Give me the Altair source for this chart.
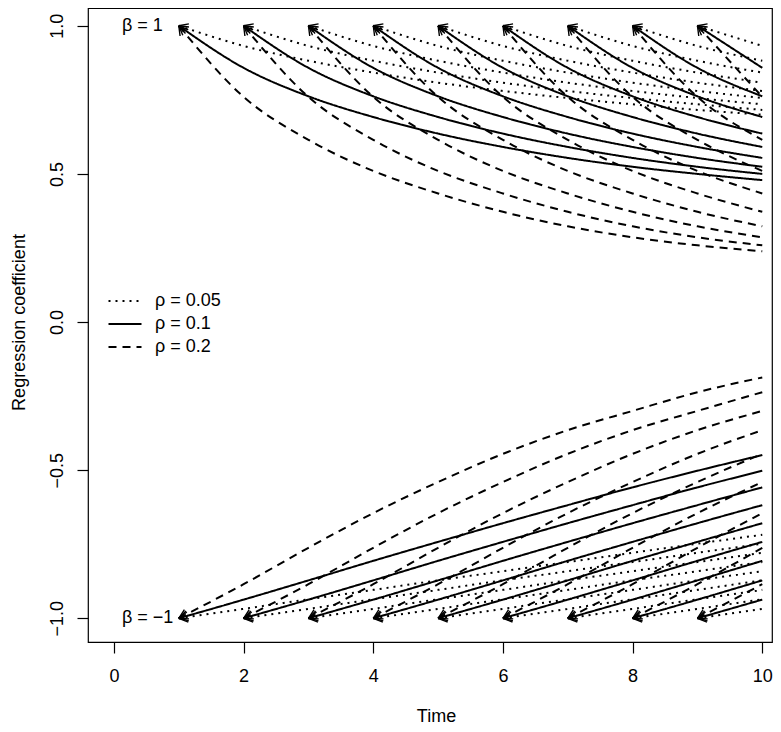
import math
import altair as alt
import pandas as pd

# ---------------- data ----------------
rho_labels = ["ρ = 0.05", "ρ = 0.1", "ρ = 0.2"]
start_times = [1, 2, 3, 4, 5, 6, 7, 8, 9]
end_time = 10
elapsed = [0, 1, 2, 3, 4, 5, 6, 7, 8, 9]

# regression coefficient as a function of time elapsed since start, beta = 1
beta_pos_rho005 = [1.0, 0.932, 0.882, 0.842, 0.808, 0.780, 0.756, 0.735, 0.716, 0.700]
beta_pos_rho01 = [1.0, 0.858, 0.762, 0.692, 0.636, 0.591, 0.554, 0.524, 0.500, 0.479]
beta_pos_rho02 = [1.0, 0.760, 0.615, 0.510, 0.434, 0.372, 0.323, 0.286, 0.259, 0.239]
# beta = -1
beta_neg_rho005 = [-1.0, -0.968, -0.936, -0.904, -0.872, -0.841, -0.810, -0.779, -0.748, -0.718]
beta_neg_rho01 = [-1.0, -0.937, -0.872, -0.806, -0.742, -0.679, -0.618, -0.558, -0.502, -0.449]
beta_neg_rho02 = [-1.0, -0.885, -0.762, -0.645, -0.540, -0.445, -0.365, -0.300, -0.237, -0.187]

beta_labels = ["β = 1", "β = −1"]
beta_values = [1, -1]

x_ticks = [0, 2, 4, 6, 8, 10]
y_ticks = [-1.0, -0.5, 0.0, 0.5, 1.0]

# ---------------- layout ----------------
W, H = 684, 634
x_dom = [-0.4, 10.15]
y_dom = [-1.08, 1.06]
px_x = W / (x_dom[1] - x_dom[0])
px_y = H / (y_dom[1] - y_dom[0])

groups = [
    ("pos", rho_labels[0], beta_pos_rho005),
    ("pos", rho_labels[1], beta_pos_rho01),
    ("pos", rho_labels[2], beta_pos_rho02),
    ("neg", rho_labels[0], beta_neg_rho005),
    ("neg", rho_labels[1], beta_neg_rho01),
    ("neg", rho_labels[2], beta_neg_rho02),
]

rows, heads = [], []
for sign, rho, vals in groups:
    # initial tangent (numerical derivative) for the arrow head direction
    deriv = (-3 * vals[0] + 4 * vals[1] - vals[2]) / 2
    ang = math.degrees(math.atan2(-deriv * px_y, px_x)) % 360
    for s in start_times:
        cid = f"{sign}_{rho}_{s}"
        for d in elapsed:
            t = s + d
            if t > end_time:
                break
            rows.append({"curve": cid, "rho": rho, "time": t, "beta": vals[d]})
        heads.append({"curve": cid, "rho": rho, "time": s, "beta": vals[0], "ang": ang})

df = pd.DataFrame(rows)
hdf = pd.DataFrame(heads)
ldf = pd.DataFrame({"label": beta_labels, "beta": beta_values, "time": [0, 0]})

FONT = "Liberation Sans"
FS = 18

xs = alt.X("time:Q", scale=alt.Scale(domain=x_dom, nice=False, zero=False),
           axis=alt.Axis(values=x_ticks, title="Time", format="d", tickSize=11,
                         labelPadding=14, titleX=348, titleY=74,
                         titleBaseline="middle"))
ys = alt.Y("beta:Q", scale=alt.Scale(domain=y_dom, nice=False, zero=False),
           axis=alt.Axis(values=y_ticks, title="Regression coefficient", format=".1f",
                         tickSize=11, labelAngle=270, labelBaseline="alphabetic",
                         labelAlign="center", labelPadding=15, titleX=-69, titleY=314,
                         titleBaseline="middle", titleAngle=270))

dash = alt.StrokeDash(
    "rho:N",
    scale=alt.Scale(domain=rho_labels, range=[[2, 5], [1, 0], [8, 6]]),
    legend=alt.Legend(
        title=None, orient="none", legendX=28, legendY=284,
        symbolType="M-3,0L3,0", symbolSize=121, symbolStrokeWidth=2,
        symbolStrokeColor="black", symbolFillColor="transparent",
        labelFontSize=FS, labelFont=FONT, labelOffset=21, rowPadding=5,
        padding=0, labelColor="black",
    ),
)

lines = alt.Chart(df).mark_line(
    interpolate="monotone", strokeWidth=2, color="black", strokeCap="butt"
).encode(x=xs, y=ys, detail="curve:N", strokeDash=dash, order="time:Q")

arrow = alt.Chart(hdf).mark_point(
    shape="M0,0L0.87,-0.5M0,0L0.87,0.5", filled=False, stroke="black",
    strokeWidth=1.4, size=420, opacity=1,
).encode(x="time:Q", y="beta:Q", angle=alt.Angle("ang:Q", scale=None))

labels = alt.Chart(ldf).mark_text(
    align="left", baseline="middle", dx=8, font=FONT, fontSize=FS, color="black"
).encode(x="time:Q", y="beta:Q", text="label:N")

chart = (
    alt.layer(lines, arrow, labels)
    .properties(width=W, height=H, autosize=alt.AutoSizeParams(type="none"),
                padding={"left": 80, "top": 0, "right": 1, "bottom": 82})
    .configure_view(stroke="black", strokeWidth=1.2)
    .configure_axis(domain=False, grid=False, tickColor="black", tickWidth=1.2,
                    labelColor="black", titleColor="black", labelFont=FONT,
                    titleFont=FONT, labelFontSize=FS, titleFontSize=FS,
                    titleFontWeight="normal")
)

chart.save("out.html", embed_options={"renderer": "svg", "actions": False})
